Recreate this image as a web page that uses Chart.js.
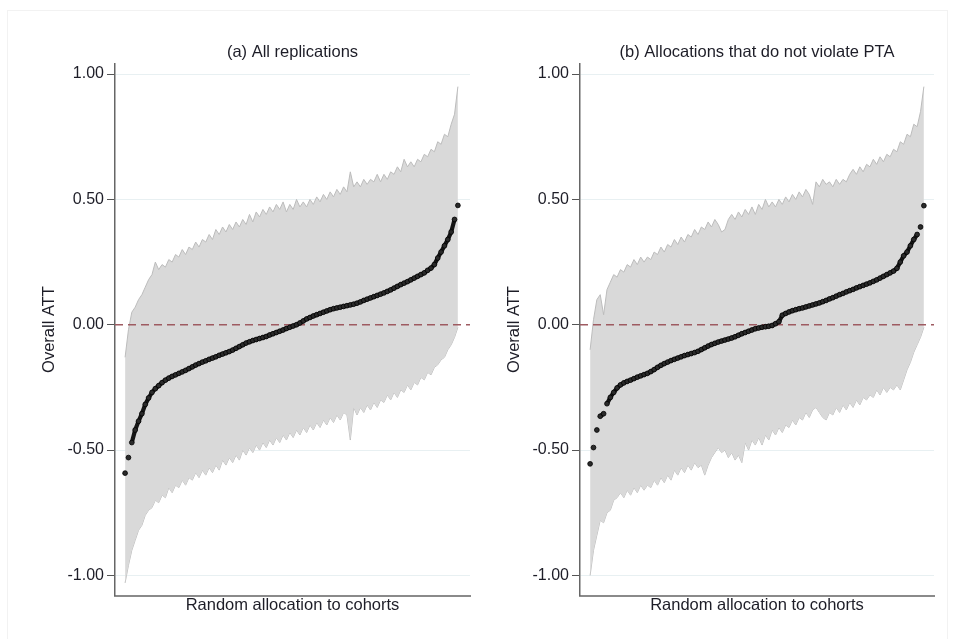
<!DOCTYPE html>
<html>
<head>
<meta charset="utf-8">
<script src="https://cdn.jsdelivr.net/npm/chart.js@4.4.1/dist/chart.umd.min.js"></script>
<style>
    html, body { margin: 0; padding: 0; background: #fff; }
    body { width: 954px; height: 639px; position: relative; overflow: hidden; }
    .frame { position: absolute; left: 7px; top: 10px; width: 939px; height: 640px; border: 1px solid #f2f2f2; }
    canvas { position: absolute; top: 0; }
    #panelA { left: 0; }
    #panelB { left: 465px; }
</style>
</head>
<body>
<div class="frame"></div>
<canvas id="panelA" width="477" height="639"></canvas>
<canvas id="panelB" width="477" height="639"></canvas>
<script>
// =============================================================================
// Placebo ATT - gesorteerde schattingen met betrouwbaarheidsband
// =============================================================================

const TITLE_A = '(a) All replications';
const TITLE_B = '(b) Allocations that do not violate PTA';
const Y_TITLE = 'Overall ATT';
const X_TITLE = 'Random allocation to cohorts';
const Y_TICKS = [-1, -0.5, 0, 0.5, 1];

// panel (a): gesorteerde ATT en band (onder/boven)
const ATT_A = [
    -0.592, -0.53, -0.47, -0.42, -0.385, -0.355, -0.318, -0.292, -0.27, -0.255,
    -0.243, -0.231, -0.221, -0.213, -0.206, -0.2, -0.194, -0.188, -0.182, -0.175,
    -0.168, -0.161, -0.155, -0.149, -0.144, -0.138, -0.133, -0.128, -0.122, -0.117,
    -0.112, -0.107, -0.101, -0.094, -0.087, -0.08, -0.073, -0.068, -0.063, -0.059,
    -0.055, -0.051, -0.047, -0.041, -0.036, -0.031, -0.026, -0.021, -0.015, -0.01,
    -0.005, 0.0, 0.007, 0.015, 0.023, 0.029, 0.035, 0.04, 0.045, 0.05,
    0.055, 0.06, 0.064, 0.067, 0.07, 0.073, 0.076, 0.079, 0.082, 0.086,
    0.091, 0.097, 0.102, 0.107, 0.112, 0.117, 0.122, 0.127, 0.133, 0.139,
    0.146, 0.153, 0.16, 0.166, 0.172, 0.179, 0.186, 0.193, 0.2, 0.207,
    0.217, 0.226, 0.24, 0.266, 0.29, 0.315, 0.34, 0.37, 0.42, 0.476
];
const HI_A = [
    -0.13, -0.02, 0.05, 0.07, 0.10, 0.12, 0.15, 0.18, 0.20, 0.25,
    0.22, 0.24, 0.23, 0.26, 0.25, 0.28, 0.27, 0.30, 0.28, 0.31,
    0.30, 0.33, 0.31, 0.34, 0.33, 0.36, 0.34, 0.38, 0.36, 0.39,
    0.37, 0.40, 0.38, 0.41, 0.39, 0.42, 0.40, 0.44, 0.41, 0.45,
    0.43, 0.46, 0.44, 0.47, 0.45, 0.48, 0.46, 0.49, 0.45, 0.48,
    0.46, 0.50, 0.47, 0.49, 0.47, 0.50, 0.48, 0.51, 0.49, 0.52,
    0.50, 0.53, 0.51, 0.54, 0.52, 0.55, 0.53, 0.61, 0.55, 0.57,
    0.55, 0.58, 0.56, 0.58, 0.57, 0.60, 0.57, 0.60, 0.58, 0.61,
    0.60, 0.63, 0.61, 0.66, 0.63, 0.65, 0.63, 0.66, 0.65, 0.68,
    0.67, 0.70, 0.69, 0.73, 0.72, 0.76, 0.75, 0.80, 0.84, 0.95
];
const LO_A = [
    -1.03, -0.96, -0.90, -0.86, -0.82, -0.80, -0.76, -0.74, -0.73, -0.70,
    -0.71, -0.68, -0.69, -0.65, -0.67, -0.64, -0.65, -0.62, -0.64, -0.61,
    -0.62, -0.59, -0.61, -0.58, -0.60, -0.57, -0.59, -0.56, -0.58, -0.54,
    -0.56, -0.53, -0.55, -0.52, -0.54, -0.50, -0.52, -0.49, -0.51, -0.48,
    -0.50, -0.47, -0.49, -0.46, -0.48, -0.45, -0.47, -0.44, -0.46, -0.43,
    -0.45, -0.42, -0.44, -0.41, -0.43, -0.40, -0.42, -0.39, -0.41, -0.38,
    -0.40, -0.37, -0.39, -0.36, -0.38, -0.35, -0.36, -0.46, -0.33, -0.36,
    -0.33, -0.35, -0.32, -0.34, -0.31, -0.33, -0.30, -0.31, -0.28, -0.30,
    -0.27, -0.29, -0.26, -0.27, -0.24, -0.26, -0.23, -0.24, -0.21, -0.22,
    -0.19, -0.20, -0.17, -0.16, -0.14, -0.13, -0.10, -0.08, -0.05, -0.01
];

// panel (b): alleen allocaties die PTA niet schenden
const ATT_B = [
    -0.555, -0.49, -0.42, -0.365, -0.355, -0.315, -0.29, -0.27, -0.252, -0.24,
    -0.232, -0.226, -0.221, -0.215, -0.209, -0.204, -0.199, -0.194, -0.187, -0.179,
    -0.17, -0.162, -0.155, -0.149, -0.143, -0.138, -0.133, -0.128, -0.123, -0.119,
    -0.115, -0.111, -0.106, -0.099, -0.092, -0.085, -0.079, -0.074, -0.069, -0.065,
    -0.061, -0.057, -0.053, -0.048, -0.042, -0.036, -0.031, -0.026, -0.021, -0.016,
    -0.013, -0.01, -0.008, -0.006, -0.003, 0.004, 0.012, 0.038, 0.045, 0.051,
    0.056, 0.06, 0.064, 0.067, 0.071, 0.075, 0.079, 0.083, 0.087, 0.092,
    0.097, 0.103, 0.108, 0.114, 0.12, 0.125, 0.131, 0.136, 0.141, 0.147,
    0.152, 0.157, 0.162, 0.167, 0.173, 0.179, 0.186, 0.193, 0.2, 0.207,
    0.214, 0.225, 0.25, 0.275, 0.29, 0.315, 0.34, 0.36, 0.39, 0.475
];
const HI_B = [
    -0.10, 0.02, 0.10, 0.12, 0.04, 0.14, 0.17, 0.20, 0.19, 0.22,
    0.21, 0.24, 0.23, 0.26, 0.24, 0.27, 0.25, 0.27, 0.26, 0.29,
    0.28, 0.31, 0.29, 0.32, 0.31, 0.34, 0.32, 0.35, 0.33, 0.36,
    0.35, 0.38, 0.36, 0.39, 0.38, 0.41, 0.39, 0.42, 0.40, 0.37,
    0.38, 0.42, 0.44, 0.42, 0.45, 0.43, 0.46, 0.44, 0.47, 0.44,
    0.48, 0.46, 0.50, 0.47, 0.49, 0.47, 0.50, 0.48, 0.51, 0.49,
    0.52, 0.50, 0.53, 0.51, 0.54, 0.52, 0.48, 0.57, 0.55, 0.58,
    0.56, 0.57, 0.55, 0.58, 0.56, 0.58, 0.57, 0.60, 0.62, 0.60,
    0.63, 0.61, 0.64, 0.63, 0.66, 0.64, 0.67, 0.65, 0.68, 0.67,
    0.70, 0.69, 0.73, 0.72, 0.76, 0.75, 0.80, 0.79, 0.85, 0.95
];
const LO_B = [
    -1.00, -0.90, -0.84, -0.78, -0.79, -0.75, -0.74, -0.70, -0.69, -0.67,
    -0.69, -0.66, -0.68, -0.65, -0.67, -0.64, -0.66, -0.64, -0.65, -0.62,
    -0.64, -0.61, -0.63, -0.60, -0.62, -0.58, -0.60, -0.57, -0.59, -0.56,
    -0.58, -0.55, -0.57, -0.56, -0.60, -0.56, -0.53, -0.51, -0.49, -0.51,
    -0.50, -0.53, -0.51, -0.54, -0.52, -0.55, -0.47, -0.50, -0.46, -0.48,
    -0.45, -0.48, -0.44, -0.46, -0.42, -0.44, -0.41, -0.43, -0.40, -0.41,
    -0.38, -0.40, -0.37, -0.38, -0.35, -0.37, -0.34, -0.33, -0.35, -0.37,
    -0.38, -0.35, -0.36, -0.33, -0.35, -0.32, -0.34, -0.31, -0.33, -0.30,
    -0.32, -0.29, -0.30, -0.28, -0.29, -0.26, -0.28, -0.25, -0.27, -0.25,
    -0.26, -0.24, -0.26, -0.22, -0.18, -0.15, -0.11, -0.08, -0.05, -0.01
];

const FONT_FAMILY = "'Liberation Sans', Arial, sans-serif";
const TEXT_COLOR = '#1d1d27';

Chart.defaults.font.family = FONT_FAMILY;
Chart.defaults.color = TEXT_COLOR;

// titel boven het plotgebied, gecentreerd op de chartArea
const panelTitle = {
    id: 'panelTitle',
    afterDraw(chart, args, opts) {
        const { ctx, chartArea } = chart;
        ctx.save();
        ctx.font = `16.5px ${FONT_FAMILY}`;
        ctx.fillStyle = TEXT_COLOR;
        ctx.textAlign = 'center';
        ctx.textBaseline = 'middle';
        ctx.fillText(opts.text, (chartArea.left + chartArea.right) / 2, opts.y);
        ctx.restore();
    }
};

function toPoints(values) {
    return values.map((v, i) => ({ x: i, y: v }));
}

// dichte reeks: korte stappen als doorlopende band, grote sprongen als losse punten
function gapColor(maxStep) {
    return c => Math.abs(c.p1.parsed.y - c.p0.parsed.y) > maxStep ? 'rgba(0,0,0,0)' : '#151515';
}

function renderPanel(canvasId, title, att, hi, lo, xMax, padRight, maxStep) {
    const ctx = document.getElementById(canvasId);
    const xMin = -3;

    return new Chart(ctx, {
        type: 'line',
        data: {
            datasets: [
                {
                    label: 'ATT',
                    data: toPoints(att),
                    pointRadius: 2.4,
                    pointBackgroundColor: '#2a2a2a',
                    pointBorderColor: '#000',
                    pointBorderWidth: 0.8,
                    borderWidth: 4.2,
                    borderColor: '#151515',
                    tension: 0,
                    fill: false,
                    segment: { borderColor: gapColor(maxStep) }
                },
                {
                    label: 'nul',
                    data: [{ x: xMin, y: 0 }, { x: xMax, y: 0 }],
                    borderColor: '#9e5b61',
                    borderWidth: 1.4,
                    borderDash: [8, 5],
                    pointRadius: 0,
                    fill: false
                },
                {
                    label: 'boven',
                    data: toPoints(hi),
                    borderColor: '#bcbcbc',
                    borderWidth: 1,
                    backgroundColor: '#d9d9d9',
                    pointRadius: 0,
                    tension: 0,
                    fill: '+1'
                },
                {
                    label: 'onder',
                    data: toPoints(lo),
                    borderColor: '#bcbcbc',
                    borderWidth: 1,
                    pointRadius: 0,
                    tension: 0,
                    fill: false
                }
            ]
        },
        options: {
            responsive: false,
            animation: false,
            devicePixelRatio: 1,
            layout: { padding: { left: 0, right: padRight, top: 63.3, bottom: 0 } },
            plugins: {
                legend: { display: false },
                tooltip: { enabled: false },
                panelTitle: { text: title, y: 52.5 }
            },
            scales: {
                x: {
                    type: 'linear',
                    min: xMin,
                    max: xMax,
                    ticks: { display: false },
                    grid: { display: false },
                    border: { display: true, color: '#8a8a8a', width: 2 },
                    title: {
                        display: true,
                        text: X_TITLE,
                        color: TEXT_COLOR,
                        font: { size: 16.5 },
                        padding: { top: 0, bottom: 24 }
                    },
                    afterFit(scale) { scale.height = 43.3; }
                },
                y: {
                    min: -1.081,
                    max: 1.043,
                    afterBuildTicks(scale) {
                        scale.ticks = Y_TICKS.map(v => ({ value: v }));
                    },
                    ticks: {
                        color: TEXT_COLOR,
                        font: { size: 16 },
                        padding: 3,
                        callback: v => v.toFixed(2)
                    },
                    grid: {
                        color: c => (c.tick && c.tick.value === 0 ? 'rgba(0,0,0,0)' : '#e8f0f2'),
                        lineWidth: 1,
                        drawTicks: true,
                        tickLength: 8,
                        tickColor: '#555',
                        tickWidth: 1
                    },
                    border: { display: true, color: '#666', width: 1.5 },
                    title: {
                        display: true,
                        text: Y_TITLE,
                        color: TEXT_COLOR,
                        font: { size: 16.5 },
                        padding: { top: 40, bottom: 0 }
                    },
                    afterFit(scale) { scale.width = 115; }
                }
            }
        },
        plugins: [panelTitle]
    });
}

renderPanel('panelA', TITLE_A, ATT_A, HI_A, LO_A, 102.6, 7, 0.055);
renderPanel('panelB', TITLE_B, ATT_B, HI_B, LO_B, 102, 8, 0.03);
</script>
</body>
</html>
